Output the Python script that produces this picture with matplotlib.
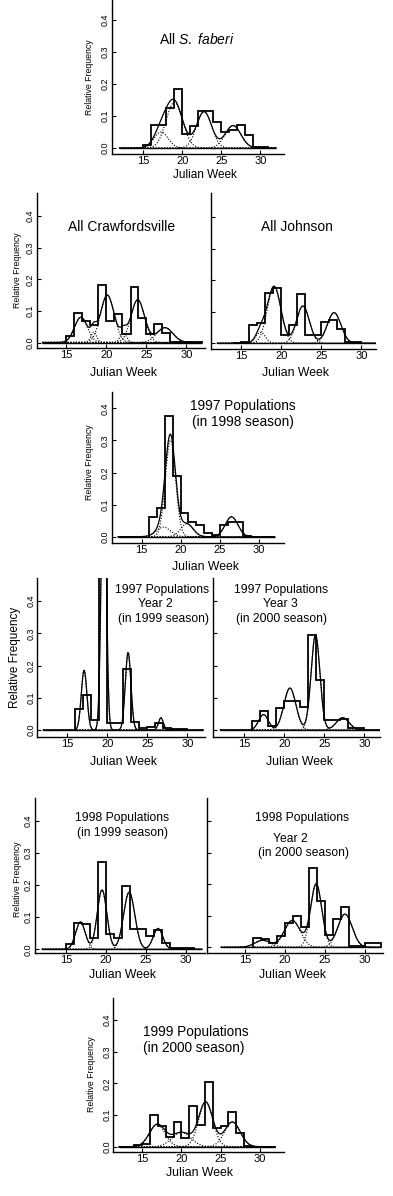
import numpy as np
import matplotlib
matplotlib.use("Agg")
import matplotlib.pyplot as plt

plt.rcParams['font.family'] = ['Liberation Sans', 'DejaVu Sans']
plt.rcParams['mathtext.fontset'] = 'custom'
plt.rcParams['mathtext.rm'] = 'Liberation Sans'
plt.rcParams['mathtext.it'] = 'Liberation Sans:italic'

W, H = 393, 1196
weeks_range = (12, 32)

# ---- histogram data: first bin start week, then relative frequency per 1-week bin
faberi_start = 15
faberi_hist = [0.01, 0.073, 0.073, 0.125, 0.183, 0.045, 0.07, 0.115, 0.115, 0.08, 0.05, 0.055, 0.072, 0.042, 0.003, 0.002]
faberi_comp = [(17.3, 0.9, 0.05), (19.0, 1.05, 0.142), (22.8, 0.95, 0.113), (26.5, 1.0, 0.07)]

craw_start = 15
craw_hist = [0.02, 0.093, 0.068, 0.055, 0.183, 0.068, 0.09, 0.027, 0.177, 0.078, 0.027, 0.06, 0.03, 0.003, 0.003, 0.003, 0.003]
craw_comp = [(16.8, 0.8, 0.08), (18.4, 0.35, 0.033), (20.1, 0.85, 0.15), (22.1, 0.4, 0.03), (23.9, 0.85, 0.135), (27.3, 1.0, 0.047)]

john_start = 14
john_hist = [0.002, 0.003, 0.057, 0.065, 0.16, 0.175, 0.027, 0.057, 0.155, 0.027, 0.027, 0.067, 0.075, 0.045, 0.005, 0.003]
john_comp = [(17.4, 0.6, 0.035), (19.1, 0.85, 0.18), (22.7, 0.8, 0.118), (26.6, 0.85, 0.097)]

p97_98_start = 16
p97_98_hist = [0.06, 0.09, 0.375, 0.19, 0.073, 0.045, 0.037, 0.012, 0.004, 0.038, 0.045, 0.047, 0.003]
p97_98_comp = [(17.8, 0.9, 0.03), (18.7, 0.65, 0.30), (20.8, 0.8, 0.04), (26.5, 0.8, 0.062)]

p97_99_start = 16
p97_99_hist = [0.065, 0.11, 0.03, 0.6, 0.022, 0.022, 0.19, 0.025, 0.005, 0.008, 0.022, 0.005, 0.003, 0.003]
p97_99_comp = [(17.1, 0.35, 0.185), (19.55, 0.3, 0.91), (22.6, 0.35, 0.24), (26.7, 0.3, 0.038)]

p97_00_start = 16
p97_00_hist = [0.027, 0.06, 0.012, 0.068, 0.09, 0.09, 0.072, 0.295, 0.155, 0.03, 0.03, 0.035, 0.005, 0.005]
p97_00_comp = [(17.4, 0.6, 0.048), (20.7, 0.75, 0.13), (23.9, 0.55, 0.295), (27.3, 0.8, 0.038)]

p98_99_start = 15
p98_99_hist = [0.015, 0.082, 0.08, 0.035, 0.272, 0.048, 0.035, 0.197, 0.063, 0.063, 0.04, 0.06, 0.02, 0.003, 0.005, 0.003]
p98_99_comp = [(16.8, 0.6, 0.085), (19.5, 0.6, 0.185), (22.9, 0.7, 0.178), (26.5, 0.6, 0.065)]

p98_00_start = 16
p98_00_hist = [0.03, 0.025, 0.015, 0.035, 0.078, 0.1, 0.065, 0.25, 0.145, 0.04, 0.09, 0.128, 0.005, 0.003, 0.015, 0.015]
p98_00_comp = [(17.2, 1.0, 0.022), (20.9, 1.0, 0.085), (23.9, 0.7, 0.2), (27.5, 0.9, 0.105)]

p99_00_start = 14
p99_00_hist = [0.005, 0.01, 0.1, 0.065, 0.03, 0.077, 0.027, 0.128, 0.068, 0.203, 0.058, 0.065, 0.11, 0.043, 0.002]
p99_00_comp = [(16.9, 1.0, 0.07), (20.0, 1.2, 0.045), (23.1, 0.9, 0.14), (26.5, 1.0, 0.078)]

fig = plt.figure(figsize=(W / 100, H / 100), dpi=100)


def panel(box, x15, pw, y0, py, start, hist, comps, ylab=True):
    # box in pixels: left, right, top, bottom
    L, R, T, B = box
    ax = fig.add_axes([L / W, 1 - B / H, (R - L) / W, (B - T) / H])
    ax.set_xlim(15 + (L - x15) / pw, 15 + (R - x15) / pw)
    ax.set_ylim((y0 - B) / py * 0.1, (y0 - T) / py * 0.1)
    for s in ['top', 'right']:
        ax.spines[s].set_visible(False)
    for s in ['left', 'bottom']:
        ax.spines[s].set_linewidth(1.0)
    ax.set_xticks([15, 20, 25, 30])
    ax.set_yticks([0.0, 0.1, 0.2, 0.3, 0.4])
    ax.tick_params(direction='in', length=3, width=0.8, labelsize=8, pad=1.5)
    if ylab:
        ax.set_yticklabels(['0.0', '0.1', '0.2', '0.3', '0.4'], rotation=90, va='center', fontsize=6.5)
    else:
        ax.set_yticklabels([])

    t = np.linspace(weeks_range[0], weeks_range[1], 800)
    total = np.zeros_like(t)
    for m, sd, h in comps:
        c = h * np.exp(-0.5 * ((t - m) / sd) ** 2)
        total += c
        ax.plot(t, c, color='k', lw=0.8, ls=(0, (1, 1.5)))
    ax.hlines(0, weeks_range[0], weeks_range[1], color='k', lw=1.0)
    edges = np.arange(start, start + len(hist) + 1)
    ax.stairs(hist, edges, color='k', lw=1.3)
    ax.plot(t, total, color='k', lw=0.9)
    return ax


def label(x, y, s, size, **kw):
    fig.text(x / W, 1 - y / H, s, ha='center', va='center', fontsize=size, **kw)


# row 1
panel((112, 284, 0, 154), 143, 7.83, 148, 32.1, faberi_start, faberi_hist, faberi_comp)
label(197, 40, r'All $\mathit{S.\ faberi}$', 10)
label(90, 77, 'Relative Frequency', 6.3, rotation=90)
label(205, 175, 'Julian Week', 8.5)

# row 2
panel((37, 205, 193, 348), 66.5, 8.0, 342.5, 31.6, craw_start, craw_hist, craw_comp)
panel((210.5, 376, 193, 349), 241.3, 8.0, 343.3, 31.6, john_start, john_hist, john_comp, ylab=False)
label(122, 227, 'All Crawfordsville', 10)
label(297, 227, 'All Johnson', 10)
label(18, 270, 'Relative Frequency', 6.3, rotation=90)
label(123, 373, 'Julian Week', 8.8)
label(295, 373, 'Julian Week', 8.8)

# row 3
panel((112, 284, 392, 543), 141.5, 7.83, 536.7, 32.1, p97_98_start, p97_98_hist, p97_98_comp)
label(243, 414, '1997 Populations\n(in 1998 season)', 9.8, linespacing=1.1)
label(90, 462, 'Relative Frequency', 6.3, rotation=90)
label(205, 567, 'Julian Week', 8.8)

# row 4
panel((37.3, 205, 578, 737), 67.3, 8.0, 730, 32.25, p97_99_start, p97_99_hist, p97_99_comp)
panel((213.3, 380, 578, 737), 244.3, 8.0, 730, 32.25, p97_00_start, p97_00_hist, p97_00_comp, ylab=False)
label(162, 590, '1997 Populations', 8.7)
label(155, 604, 'Year 2', 8.7)
label(163, 619, '(in 1999 season)', 8.7)
label(281, 590, '1997 Populations', 8.7)
label(280, 604, 'Year 3', 8.7)
label(282, 619, '(in 2000 season)', 8.7)
label(15, 657, 'Relative Frequency', 8.5, rotation=90)
label(123, 762, 'Julian Week', 8.8)
label(299, 762, 'Julian Week', 8.8)

# row 5
panel((35, 205, 798, 953), 66, 8.0, 949.3, 32.1, p98_99_start, p98_99_hist, p98_99_comp)
panel((206.7, 383, 798, 953), 245, 8.0, 947.3, 31.6, p98_00_start, p98_00_hist, p98_00_comp, ylab=False)
label(122, 818, '1998 Populations', 8.7)
label(122.5, 833, '(in 1999 season)', 8.7)
label(302.5, 818, '1998 Populations', 8.7)
label(290, 839, 'Year 2', 8.7)
label(304, 853, '(in 2000 season)', 8.7)
label(18, 879, 'Relative Frequency', 6.3, rotation=90)
label(122.5, 975, 'Julian Week', 8.8)
label(292.5, 975, 'Julian Week', 8.8)

# row 6
panel((113.3, 284, 998, 1152), 142.3, 7.83, 1146.7, 31.7, p99_00_start, p99_00_hist, p99_00_comp)
label(196, 1032, '1999 Populations', 9.8)
label(194, 1048, '(in 2000 season)', 9.8)
label(92, 1074, 'Relative Frequency', 6.3, rotation=90)
label(200, 1173, 'Julian Week', 8.8)

fig.savefig('out.png', dpi=100)
